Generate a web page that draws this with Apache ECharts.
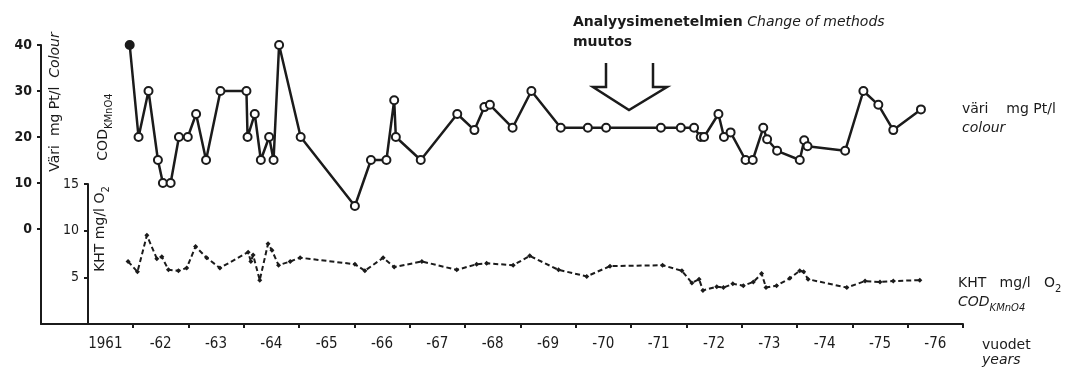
<!DOCTYPE html>
<html>
<head>
<meta charset="utf-8">
<script src="https://cdn.jsdelivr.net/npm/echarts@6/dist/echarts.min.js"></script>
<style>
  html, body { margin: 0; padding: 0; background: #fff; }
  #chart { width: 1078px; height: 367px; }
</style>
</head>
<body>
<div id="chart"></div>
<script>
// Colour (väri, mg Pt/l) observations: decimal year and value
const colourYears = [1961.94, 1962.10, 1962.28, 1962.45, 1962.54, 1962.68, 1962.83, 1962.99, 1963.14, 1963.32,
  1963.58, 1964.05, 1964.07, 1964.20, 1964.31, 1964.46, 1964.54, 1964.64, 1965.03, 1966.01,
  1966.30, 1966.58, 1966.72, 1966.75, 1967.20, 1967.86, 1968.17, 1968.35, 1968.45, 1968.86,
  1969.20, 1969.73, 1970.22, 1970.55, 1971.54, 1971.90, 1972.14, 1972.26, 1972.32, 1972.58,
  1972.68, 1972.80, 1973.07, 1973.20, 1973.39, 1973.46, 1973.64, 1974.05, 1974.13, 1974.19,
  1974.87, 1975.20, 1975.47, 1975.74, 1976.24];
const colourValues = [40, 20, 30, 15, 10, 10, 20, 20, 25, 15,
  30, 30, 20, 25, 15, 20, 15, 40, 20, 5,
  15, 15, 28, 20, 15, 25, 21.5, 26.5, 27, 22,
  30, 22, 22, 22, 22, 22, 22, 20, 20, 25,
  20, 21, 15, 15, 22, 19.5, 17, 15, 19.3, 18,
  17, 30, 27, 21.5, 26];

// COD KMnO4 (KHT, mg/l O2) observations
const codYears = [1961.91, 1962.08, 1962.25, 1962.43, 1962.52, 1962.64, 1962.82, 1962.97, 1963.13, 1963.33,
  1963.57, 1964.08, 1964.13, 1964.17, 1964.29, 1964.44, 1964.51, 1964.63, 1964.84, 1965.02,
  1966.01, 1966.19, 1966.52, 1966.72, 1967.22, 1967.85, 1968.21, 1968.39, 1968.87, 1969.17,
  1969.69, 1970.20, 1970.62, 1971.57, 1971.92, 1972.10, 1972.23, 1972.30, 1972.55, 1972.67,
  1972.84, 1973.03, 1973.21, 1973.36, 1973.44, 1973.63, 1973.87, 1974.05, 1974.12, 1974.20,
  1974.90, 1975.23, 1975.50, 1975.74, 1976.22];
const codValues = [6.7, 5.6, 9.5, 7.0, 7.2, 5.8, 5.7, 6.0, 8.3, 7.1,
  6.0, 7.7, 6.7, 7.4, 4.7, 8.6, 7.9, 6.3, 6.7, 7.1,
  6.4, 5.7, 7.1, 6.1, 6.7, 5.8, 6.4, 6.5, 6.3, 7.3,
  5.8, 5.1, 6.2, 6.3, 5.7, 4.4, 4.8, 3.6, 4.0, 3.9,
  4.3, 4.1, 4.5, 5.4, 3.9, 4.1, 4.9, 5.7, 5.6, 4.8,
  3.9, 4.6, 4.5, 4.6, 4.7];

// Axis ticks and labels
const yearTicks = [1962, 1963, 1964, 1965, 1966, 1967, 1968, 1969, 1970, 1971, 1972, 1973, 1974, 1975, 1976, 1977];
const yearLabels = [1961, 1962, 1963, 1964, 1965, 1966, 1967, 1968, 1969, 1970, 1971, 1972, 1973, 1974, 1975, 1976];
const colourTicks = [0, 10, 20, 30, 40];
const codTicks = [5, 10, 15];

const INK = '#1b1b1b';
const TICK_FONT = '"DejaVu Sans Condensed", "DejaVu Sans", sans-serif';
const TEXT_FONT = '"DejaVu Sans", sans-serif';

const chart = echarts.init(document.getElementById('chart'), null, { renderer: 'canvas' });

const colourData = colourYears.map((y, i) => {
  const item = { value: [y, colourValues[i]] };
  if (i === 0) item.itemStyle = { color: INK };
  return item;
});
const codData = codYears.map((y, i) => [y, codValues[i]]);

function text(x, y, str, rich, extra) {
  return Object.assign({
    type: 'text', x: x, y: y, silent: true,
    style: Object.assign({
      text: str, fill: INK, font: '14px ' + TEXT_FONT,
      align: 'left', verticalAlign: 'middle',
      textAlign: 'left', textVerticalAlign: 'middle',
      rich: rich || {}
    }, (extra && extra.style) || {})
  }, (extra && extra.el) || {});
}

const plain = { fontSize: 14, fontFamily: TEXT_FONT, color: INK, lineHeight: 22 };
const ital = { fontSize: 14, fontFamily: TEXT_FONT, fontStyle: 'italic', color: INK, lineHeight: 22 };
const bold = { fontSize: 14, fontFamily: TEXT_FONT, fontWeight: 'bold', color: INK, lineHeight: 22 };
// subscript: a short fragment box pinned to the bottom of the line
const sub = { fontSize: 10, fontFamily: TEXT_FONT, color: INK, lineHeight: 11, verticalAlign: 'bottom' };
const subIt = Object.assign({}, sub, { fontStyle: 'italic' });

const option = {
  animation: false,
  backgroundColor: '#fff',
  grid: [
    { left: 41, right: 115, top: 45, bottom: 43 },
    { left: 88, right: 115, top: 184, bottom: 43 }
  ],
  xAxis: [
    {
      type: 'value', gridIndex: 0, min: 1960.337, max: 1977,
      axisLine: { show: true, onZero: false, lineStyle: { color: INK, width: 2 } },
      axisTick: { show: true, customValues: yearTicks, length: 4, lineStyle: { color: INK, width: 2 } },
      axisLabel: {
        customValues: yearLabels.map(y => y + 0.5),
        margin: 13, color: INK, fontSize: 15, fontFamily: TICK_FONT,
        formatter: v => {
          const y = Math.floor(v);
          return y === 1961 ? '1961' : '-' + String(y).slice(2);
        }
      },
      splitLine: { show: false }
    },
    { type: 'value', gridIndex: 1, min: 1961.186, max: 1977, show: false }
  ],
  yAxis: [
    {
      type: 'value', gridIndex: 0, min: -20.65, max: 40,
      axisLine: { show: true, onZero: false, lineStyle: { color: INK, width: 2 } },
      axisTick: { show: true, customValues: colourTicks, length: 4, lineStyle: { color: INK, width: 2 } },
      axisLabel: { customValues: colourTicks, margin: 9, color: INK, fontSize: 14, fontFamily: TICK_FONT, fontWeight: 'bold' },
      splitLine: { show: false }
    },
    {
      type: 'value', gridIndex: 1, min: 0, max: 15,
      axisLine: { show: true, onZero: false, lineStyle: { color: INK, width: 2 } },
      axisTick: { show: true, customValues: codTicks, length: 4, lineStyle: { color: INK, width: 2 } },
      axisLabel: { customValues: codTicks, margin: 9, color: INK, fontSize: 14, fontFamily: TICK_FONT },
      splitLine: { show: false }
    }
  ],
  series: [
    {
      name: 'väri', type: 'line', xAxisIndex: 0, yAxisIndex: 0,
      data: colourData,
      symbol: 'circle', symbolSize: 8,
      itemStyle: { color: '#fff', borderColor: INK, borderWidth: 2 },
      lineStyle: { color: INK, width: 2.5 },
      z: 3
    },
    {
      name: 'KHT', type: 'line', xAxisIndex: 1, yAxisIndex: 1,
      data: codData,
      symbol: 'diamond', symbolSize: 5,
      itemStyle: { color: INK },
      lineStyle: { color: INK, width: 2, type: [5, 3] },
      z: 3
    }
  ],
  graphic: [
    // vertical axis titles
    text(55, 102, '{p|Väri  mg Pt/l}  {i|Colour}', { p: plain, i: ital },
      { el: { rotation: Math.PI / 2 }, style: { align: 'center', textAlign: 'center' } }),
    text(103, 127, '{p|COD}{s|KMnO4}', { p: plain, s: sub },
      { el: { rotation: Math.PI / 2 }, style: { align: 'center', textAlign: 'center' } }),
    text(100, 229, '{p|KHT mg/l O}{s|2}', { p: plain, s: sub },
      { el: { rotation: Math.PI / 2 }, style: { align: 'center', textAlign: 'center' } }),
    // series labels at the right
    text(962, 109, '{p|väri    mg Pt/l}', { p: plain }),
    text(962, 128, '{i|colour}', { i: ital }),
    text(958, 283, '{p|KHT   mg/l   O}{s|2}', { p: plain, s: sub }),
    text(958, 302, '{i|COD}{s|KMnO4}', { i: ital, s: subIt }),
    text(982, 345, '{p|vuodet}', { p: plain }),
    text(982, 360, '{i|years}', { i: ital }),
    // change-of-methods note
    text(573, 22, '{b|Analyysimenetelmien} {i|Change of methods}', { b: bold, i: ital }),
    text(573, 42, '{b|muutos}', { b: bold }),
    {
      type: 'polyline', silent: true,
      shape: { points: [[606, 63], [606, 87], [593, 87], [629, 110], [667, 87], [653, 87], [653, 63]] },
      style: { stroke: INK, lineWidth: 2.5, fill: null }
    }
  ]
};

chart.setOption(option);
</script>
</body>
</html>
